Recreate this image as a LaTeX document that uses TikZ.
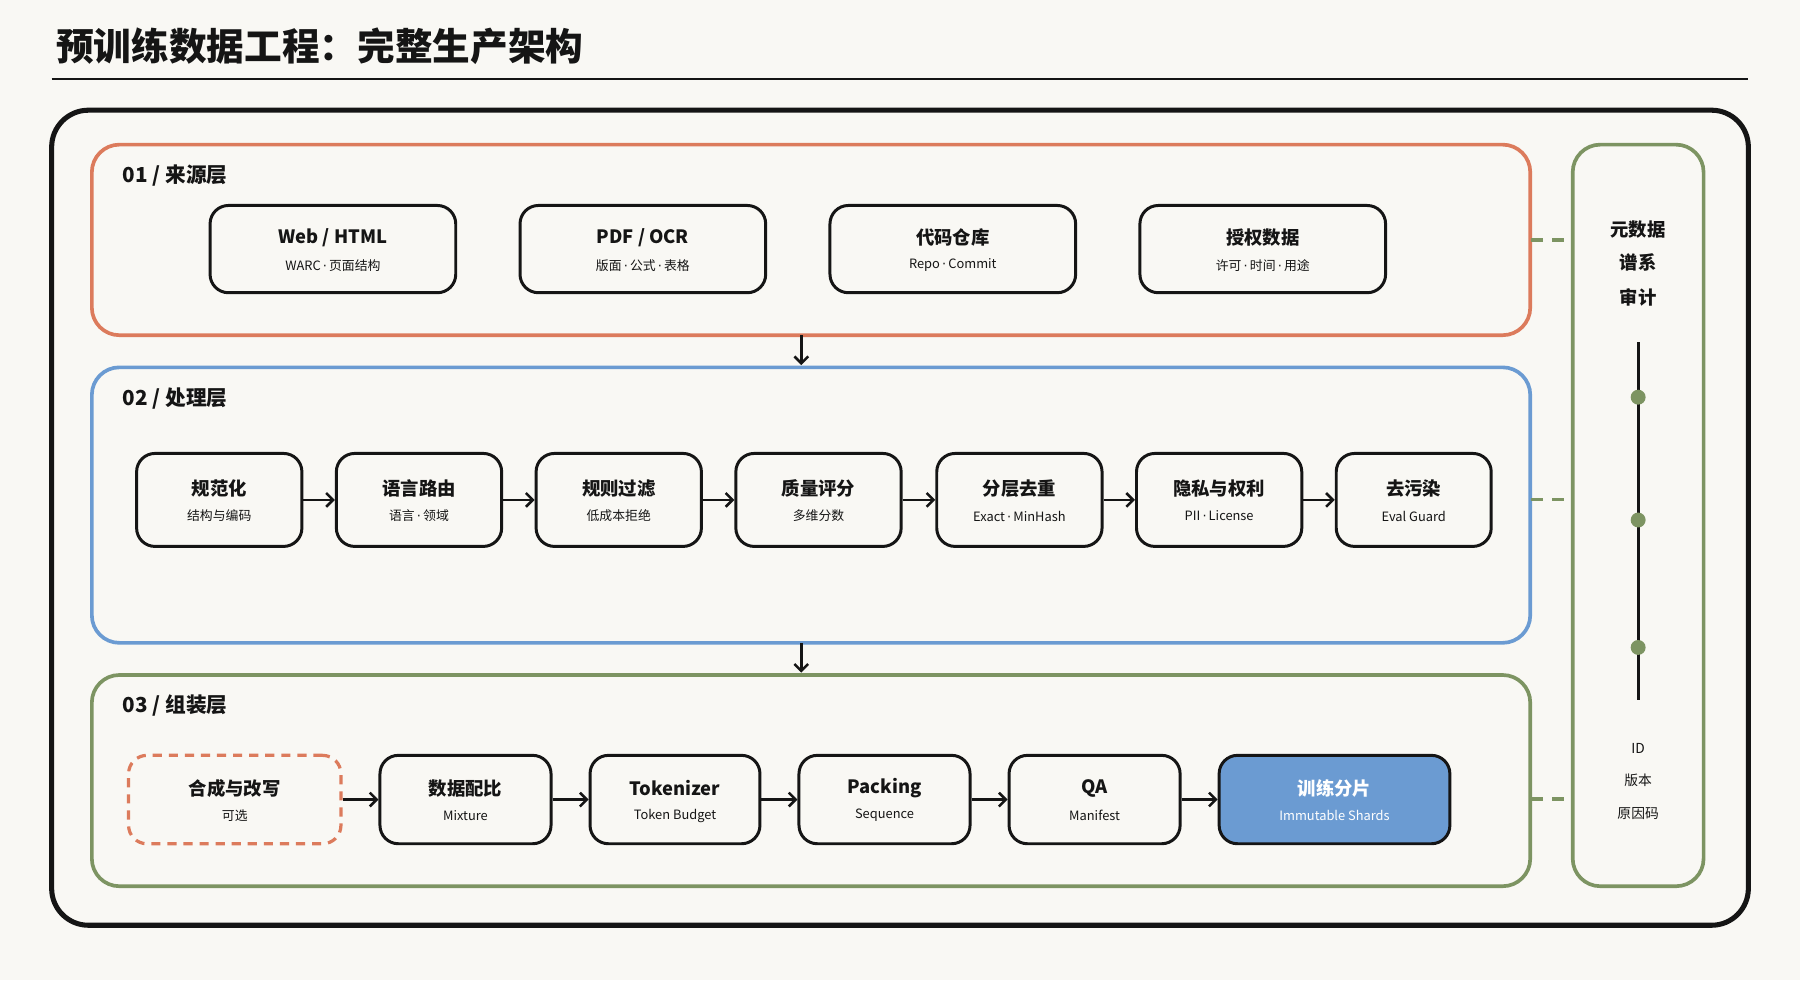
\documentclass[tikz,border=0pt]{standalone}
\usepackage{fontspec}
\setmainfont{Noto Sans CJK SC}
\newfontfamily\latf{DejaVu Sans}
\newcommand{\md}{\,{\latf ·}\,}
\usetikzlibrary{arrows.meta}
\definecolor{bg}{HTML}{F9F8F4}
\definecolor{orng}{HTML}{DC7B5C}
\definecolor{blu}{HTML}{6B9BD2}
\definecolor{grn}{HTML}{7D9462}
\definecolor{ink}{HTML}{151515}
\tikzset{
 layer/.style={draw=#1,line width=1.6pt,rounded corners=12pt},
 card/.style={draw=ink,line width=1.3pt,rounded corners=8pt,fill=bg},
 ttl/.style={font=\fontsize{8}{9}\selectfont\bfseries,text=ink},
 sub/.style={font=\fontsize{5.6}{7}\selectfont,text=ink},
 arr/.style={-{Straight Barb[length=3pt,width=6pt]},line width=1.1pt,draw=ink},
 lnk/.style={dashed,dash pattern=on 5pt off 4pt,draw=grn,line width=1.4pt},
 lbl/.style={font=\fontsize{9}{10}\selectfont\bfseries,anchor=west,text=ink},
}
\newcommand{\card}[7]{% name,x1,x2,y1,y2,title,sub
 \node[card,minimum width=(#3-#2)*0.5pt,minimum height=(#5-#4)*0.5pt] (#1) at ({(#2+#3)/2},{-(#4+#5)/2}) {};
 \node[ttl] at ({(#2+#3)/2},{-(#4+#5)/2+10}) {#6};
 \node[sub] at ({(#2+#3)/2},{-(#4+#5)/2-14}) {#7};}
\begin{document}
\begin{tikzpicture}[x=0.5pt,y=0.5pt]
\fill[bg] (0,0) rectangle (1568,-854);
\useasboundingbox (0,0) rectangle (1568,-854);
\node[anchor=west,font=\fontsize{16.4}{18}\selectfont\bfseries,text=ink] (title) at (42,-40) {预训练数据工程：完整生产架构};
\draw[ink,line width=1pt] (45,-69) -- (1523,-69);
\draw[ink,line width=2.2pt,rounded corners=16pt] (45,-96) rectangle (1523,-806);
% layers
\draw[layer=orng] (80,-126) rectangle (1333,-292);
\draw[layer=blu] (80,-320) rectangle (1333,-560);
\draw[layer=grn] (80,-588) rectangle (1333,-772);
\draw[layer=grn] (1370,-126) rectangle (1484,-772);
\node[lbl] (lab1) at (100,-153) {01 / 来源层};
\node[lbl] (lab2) at (100,-347) {02 / 处理层};
\node[lbl] (lab3) at (100,-615) {03 / 组装层};
% layer 1
\card{w}{183}{397}{179}{255}{Web / HTML}{WARC\md 页面结构}
\card{p}{453}{667}{179}{255}{PDF / OCR}{版面\md 公式\md 表格}
\card{c}{723}{937}{179}{255}{代码仓库}{Repo\md Commit}
\card{a}{993}{1207}{179}{255}{授权数据}{许可\md 时间\md 用途}
% layer 2
\card{b1}{119}{263}{395}{476}{规范化}{结构与编码}
\card{b2}{293}{437}{395}{476}{语言路由}{语言\md 领域}
\card{b3}{467}{611}{395}{476}{规则过滤}{低成本拒绝}
\card{b4}{641}{785}{395}{476}{质量评分}{多维分数}
\card{b5}{816}{960}{395}{476}{分层去重}{Exact\md MinHash}
\card{b6}{990}{1134}{395}{476}{隐私与权利}{PII\md License}
\card{b7}{1164}{1299}{395}{476}{去污染}{Eval Guard}
\foreach \i/\j in {b1/b2,b2/b3,b3/b4,b4/b5,b5/b6,b6/b7} \draw[arr] (\i) -- (\j);
% layer 3
\node[draw=orng,dashed,dash pattern=on 4pt off 3pt,line width=1.4pt,rounded corners=8pt,minimum width=92.5pt,minimum height=38.5pt] (s1) at (204.5,-696.5) {};
\node[ttl] at (204.5,-686.5) {合成与改写};
\node[sub] at (204.5,-710.5) {可选};
\card{s2}{331}{480}{658}{735}{数据配比}{Mixture}
\card{s3}{514}{662}{658}{735}{Tokenizer}{Token Budget}
\card{s4}{696}{845}{658}{735}{Packing}{Sequence}
\card{s5}{879}{1028}{658}{735}{QA}{Manifest}
\node[card,fill=blu,minimum width=100.5pt,minimum height=38.5pt] (s6) at (1162.5,-696.5) {};
\node[ttl,text=white] at (1162.5,-686.5) {训练分片};
\node[sub,text=white] at (1162.5,-710.5) {Immutable Shards};
\foreach \i/\j in {s1/s2,s2/s3,s3/s4,s4/s5,s5/s6} \draw[arr] (\i) -- (\j);
% inter-layer arrows
\coordinate (d1a) at (698,-292); \coordinate (d1b) at (698,-318);
\coordinate (d2a) at (698,-560); \coordinate (d2b) at (698,-586);
\draw[arr] (d1a) -- (d1b);
\draw[arr] (d2a) -- (d2b);
% links to side panel
\foreach \y in {209,435,696} \draw[lnk] (1334,-\y) -- (1369,-\y);
\node[ttl] (m1) at (1427,-200) {元数据};
\node[ttl] (m2) at (1427,-229) {谱系};
\node[ttl] (m3) at (1427,-259) {审计};
\coordinate (t1) at (1427,-298); \coordinate (t2) at (1427,-610);
\draw[ink,line width=1.3pt] (t1) -- (t2);
\foreach \y in {346,453,564} \fill[grn] (1427,-\y) circle (6.5);
\node[sub,font=\fontsize{6}{7}\selectfont] (n1) at (1427,-652) {ID};
\node[sub,font=\fontsize{6}{7}\selectfont] (n2) at (1427,-680) {版本};
\node[sub,font=\fontsize{6}{7}\selectfont] (n3) at (1427,-709) {原因码};
\end{tikzpicture}
\end{document}
